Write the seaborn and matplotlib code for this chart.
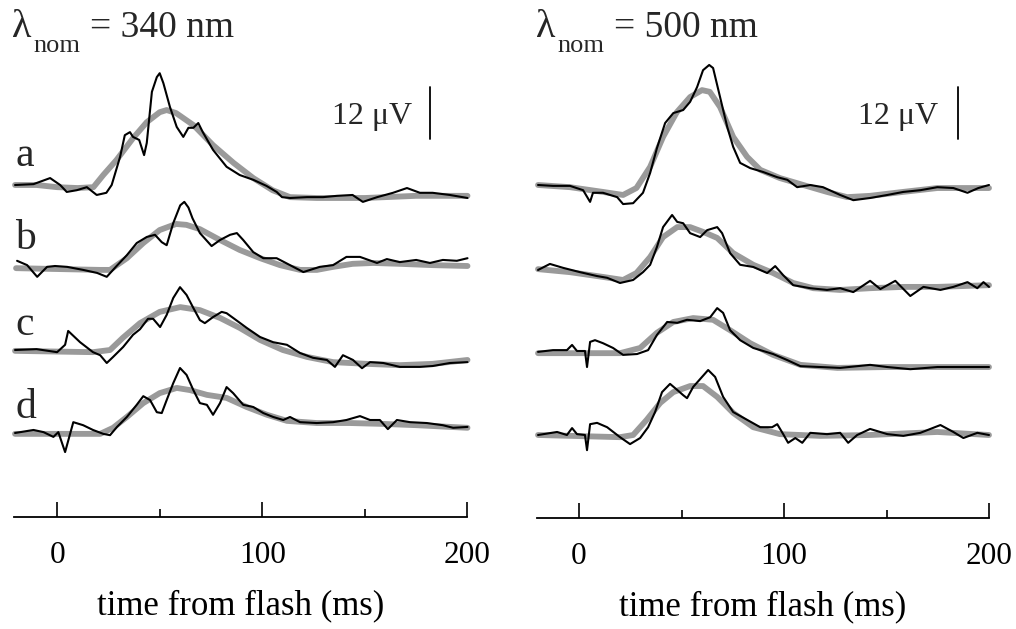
import numpy as np
import pandas as pd
import matplotlib
matplotlib.use("Agg")
import matplotlib.pyplot as plt
import seaborn as sns

# ---------------- data (time in ms, amplitude in microvolts, relative to each trace's start) -------------
# Left panel: lambda_nom = 340 nm
L_a_t = [-20.5,-11.5,-3.4,1.5,4.7,9.6,14.5,19.3,24,26.6,30.7,33,35.5,37,40,42.4,43.7,46.2,48.6,50,51.8,55,58.3,61.5,64,66.4,68.8,71,76,82.6,89,95.6,102,107,109.6,113.5,121.8,129.6,136.4,144,149,156,163.7,170.5,176.8,183,191.4,200]
L_a_v = [0.0,0.2,1.6,0.0,-1.6,-1.2,-0.5,-2.3,-1.8,0.0,6.5,11.5,12.2,11.1,10.4,6.9,9.7,21.5,24.9,25.8,23.5,18.0,13.4,11.1,13.2,13.2,14.3,12.2,8.1,4.2,2.3,1.2,-0.2,-1.6,-2.8,-3.0,-2.8,-2.8,-2.5,-2.3,-3.9,-2.8,-1.8,-0.7,-1.8,-1.8,-2.3,-3.0]
L_a_fit_t = [-20.5,-10,0,10,17.7,22.5,29,37,43.7,50,53.4,58,66.5,76,86,95.6,105,113.5,126.5,150,175,200]
L_a_fit_v = [0,0,-0.5,-0.7,-0.5,2.3,5.8,10.8,14.5,16.8,17.3,16.6,13.8,9.2,5.1,1.6,-1.2,-2.8,-3.0,-3.0,-2.5,-2.5]

L_b_t = [-19.5,-14.6,-9.7,-4.9,-1,4.9,12.7,19.5,24.2,29,34,38.8,43.7,47.7,51,53.4,56.6,60,62,64,66,69.6,75.3,79.4,84.3,87.6,90.7,95.6,100.5,107,113.5,120,128,134.5,141,147.6,155.9,160.7,167,175,181.7,188,194.8,200]
L_b_v = [1.2,0.2,-2.5,-0.2,0,-0.2,-0.9,-1.6,-2.5,0,2.5,5.3,6.7,7.2,5.5,4.8,9.9,14.0,14.8,13.5,11.0,7.6,4.6,6.0,7.2,7.6,6.0,3.2,1.8,1.8,0.2,-1.4,-0.2,0.2,2.1,2.1,0.7,1.6,0.9,1.4,0.7,1.4,1.2,1.8]
L_b_fit_t = [-20,0,21,25.8,34,42,50,58,63,69.6,79.4,89,99,108.6,118.4,126.6,134.5,144,154,167,183,200]
L_b_fit_v = [-0.5,-0.7,-0.9,-0.9,1.8,5.3,8.3,9.7,9.5,8.5,6.0,3.7,1.8,0.2,-0.9,-0.9,-0.2,0.5,0.7,0.5,0.2,0]

L_c_t = [-20.5,-10,0,3.9,5.4,11.2,17.5,21,24.2,27.3,32.2,37,40.4,44.3,46.8,50.2,53.4,56.6,59.9,63.1,66.4,69.6,72,76,80.2,82.6,85.8,92.4,98.9,105.3,112,118.4,124.7,131.5,135.4,139.3,144.2,148.6,152.5,159,167,176.8,183,191.4,200]
L_c_v = [0,0.2,-0.5,1.2,4.4,1.8,-0.5,-1.2,-3.0,-1.6,0.7,3.5,4.8,7.2,7.2,5.3,8.1,12.0,14.5,12.7,9.7,6.9,6.2,7.6,8.8,8.5,7.4,5.1,3.0,1.8,1.2,-0.7,-1.8,-2.3,-3.9,-1.2,-2.3,-4.2,-2.8,-3.0,-3.9,-3.9,-3.7,-3.0,-2.8]
L_c_fit_t = [-20.5,17.5,25.8,32,40.4,50,60,69.6,79.4,89,99,110,121.8,134.5,151,167,183,200]
L_c_fit_v = [-0.2,-0.5,0,2.8,6.2,8.8,9.9,9.2,7.4,5.1,2.3,0,-1.6,-2.8,-3.2,-3.5,-3.2,-2.3]

L_d_t = [-20.5,-11.5,-6.6,-1.8,0.6,3.9,7.9,12.7,17.5,22.5,25.8,29.2,34,38.8,42,45.3,48.6,51,53.4,56.6,59.9,63.1,66.4,69.6,73,76,79.4,82.6,85.8,90.7,95.6,100.5,105.3,110.2,113.5,118.4,126.5,134.5,141,147.6,152.5,157.3,161.2,165.6,172,180.2,188,193,200]
L_d_v = [0,0.7,0.2,-0.9,0.2,-4.4,2.5,1.8,0.7,-0.2,-0.5,1.4,3.7,6.5,8.5,7.6,4.8,4.6,7.6,11.5,15.0,13.4,9.9,6.9,6.5,4.2,6.9,10.6,9.2,6.5,6.0,4.6,3.7,3.0,3.7,2.5,2.3,2.5,3.0,3.9,3.0,3.0,0.9,3.0,2.5,2.3,1.8,1.2,1.4]
L_d_fit_t = [-20.5,21,27.3,34,42,50,58.3,64.8,73,82.6,92.4,102.3,112,126.6,142.7,158.8,175.3,200]
L_d_fit_v = [-0.2,-0.2,1.2,3.7,6.9,9.2,10.4,9.9,8.8,8.1,6.0,4.2,2.8,2.3,2.3,2.1,1.8,1.2]

# Right panel: lambda_nom = 500 nm
R_a_t = [-20,-12.7,-4.4,2,5.4,6.8,11.7,18.6,21.5,26.4,31.2,34.7,38,42,46,50.8,54.2,57.6,60.5,63.5,65.4,68.8,72.3,75.2,78.6,83.5,89.8,96.7,101.6,106.4,112.8,119,127.4,133.8,142,150.4,158.2,166.5,174.8,182.6,189.5,194.8,200]
R_a_v = [0,-0.2,-0.2,-1.2,-3.9,-1.8,-1.8,-2.8,-4.4,-4.2,-1.8,2.8,8.5,14.3,16.6,17.3,19.2,22.6,26.5,27.7,27.0,20.3,13.4,8.8,5.1,3.9,3.0,1.8,1.2,-0.5,0,-0.5,-2.3,-3.5,-3.0,-2.3,-1.6,-1.2,-0.5,-0.7,-1.8,-0.7,0]
R_a_fit_t = [-20,-4.4,11.7,21.5,28,34.7,41,47.7,54.2,60,63.8,68.8,75.2,82,88.4,98,109.4,121,130.8,142,158,174.8,200]
R_a_fit_v = [0,-0.5,-1.6,-2.3,-0.7,4.2,11.1,16.8,20.3,21.9,21.5,18.0,11.1,6.5,3.5,1.6,0,-1.6,-2.8,-2.5,-1.6,-0.7,-0.7]

R_b_t = [-20,-14.2,-7.8,0.5,8.8,13.7,20,26.4,31.2,34.7,38,41,45.4,47.9,50.8,54.2,59.1,62.5,67.4,69.8,73.7,78.6,85,91.8,95.7,99.6,104.5,112.8,121,127.4,133.8,142,147,154.3,161.6,168,176.3,182.6,189.5,194.3,197.3,200]
R_b_v = [0,1.4,0.5,-0.5,-1.4,-1.8,-3.0,-2.3,-0.5,1.2,5.3,9.9,12.7,11.1,10.8,8.5,7.6,9.2,9.9,8.5,3.9,1.2,0.7,-0.7,0.9,-1.2,-3.5,-4.2,-4.6,-4.2,-5.1,-2.5,-4.4,-2.5,-6.0,-3.9,-4.6,-3.9,-2.8,-4.2,-2.8,-3.9]
R_b_fit_t = [-20,-4.4,11.7,21.5,28,34.7,41,47.9,54.2,60.5,67.4,75.2,85,94.7,104.5,114.3,127.4,142,158.2,174.8,200]
R_b_fit_v = [0.2,-0.5,-1.6,-2.3,-0.7,3.0,7.6,9.9,9.9,8.8,7.4,3.9,1.2,-0.7,-3.0,-4.2,-4.6,-4.2,-3.9,-3.9,-3.5]

R_c_t = [-20,-12.7,-5.9,-3.4,-1,2.9,3.9,5.4,7.8,11.7,16.6,21.5,28.3,33.7,38,43,47.9,52.7,59.1,64,67.4,70.3,73.7,78.6,85,94.7,101.6,108,117.7,127.4,142,150.4,161.6,174.8,187.5,200]
R_c_v = [-0.2,0.2,0.2,1.4,0,0,-3.7,2.1,2.5,1.8,0.7,-0.9,-0.7,0.2,3.7,6.7,6.5,7.2,6.9,7.8,9.9,8.8,4.8,2.5,0.7,-0.7,-2.1,-3.5,-3.7,-3.9,-3.2,-3.7,-4.2,-3.7,-3.7,-3.7]
R_c_fit_t = [-20,20,29.8,38,46,55.7,65.4,73.7,83.5,94.7,108,126,150.4,174.8,200]
R_c_fit_v = [-0.5,-0.5,0.7,4.2,6.7,7.6,7.2,4.8,1.8,-0.9,-3.2,-3.9,-3.7,-3.7,-3.7]

R_d_t = [-20,-10.7,-5.9,-3.4,-1,2.9,3.9,5.4,8.8,13.7,20,24.9,29.8,33.7,37.1,40.5,44.4,47.9,50.8,52.7,55.7,60,63,66.4,70.3,75.2,82,88.4,94.2,96.7,99.6,102,105.5,108.9,112.8,121,127.4,131.3,135.7,142,150.4,158.2,166.5,176.3,182.6,187.5,194.3,200]
R_d_v = [0,0.7,0,1.6,0.2,0,-3.5,2.5,2.8,1.8,-0.5,-2.1,-0.7,1.8,5.3,9.9,11.8,10.4,9.2,8.5,11.1,13.4,15.0,13.4,8.8,5.3,3.5,1.8,1.8,2.5,0.2,-1.8,-0.7,-1.8,0.5,0.2,0.5,-1.8,0,1.4,0.2,-0.2,0.5,2.3,0.7,-0.7,0.5,0]
R_d_fit_t = [-20,20,26.4,33,39.6,46,54.2,60.5,67.4,75.2,85,98,117.7,142,174.8,200]
R_d_fit_v = [0,-0.5,0,3.5,7.4,9.9,11.3,11.3,8.8,5.1,1.8,0.2,-0.2,0,0.7,0]

trace_labels = ["a", "b", "c", "d"]
title_symbol = "λ"
title_sub = "nom"
panel_titles = ["= 340 nm", "= 500 nm"]
x_ticks = [0, 100, 200]
x_minor = [50, 150]
x_label = "time from flash (ms)"
scale_uV = 12
scale_text = "12 μV"

# ---------------- style ----------------
sns.set_theme(style="white")
plt.rcParams["font.family"] = ["Liberation Serif", "DejaVu Serif"]

W, H = 1016, 629
PX_PER_UV = 4.333
fig = plt.figure(figsize=(W / 100, H / 100), dpi=100)
fig.patch.set_facecolor("white")

panels = [
    dict(rect=(14, 467.5, 60, 517), xlim=(-21, 200),
         traces=[(L_a_t, L_a_v, L_a_fit_t, L_a_fit_v, 185),
                 (L_b_t, L_b_v, L_b_fit_t, L_b_fit_v, 266),
                 (L_c_t, L_c_v, L_c_fit_t, L_c_fit_v, 350),
                 (L_d_t, L_d_v, L_d_fit_t, L_d_fit_v, 433)],
         bar_x=181.7, text_x=173.0, title_x=12, letters=True),
    dict(rect=(537, 989, 60, 518), xlim=(-20.5, 200),
         traces=[(R_a_t, R_a_v, R_a_fit_t, R_a_fit_v, 185),
                 (R_b_t, R_b_v, R_b_fit_t, R_b_fit_v, 270),
                 (R_c_t, R_c_v, R_c_fit_t, R_c_fit_v, 351),
                 (R_d_t, R_d_v, R_d_fit_t, R_d_fit_v, 435)],
         bar_x=185.0, text_x=175.3, title_x=536, letters=False),
]
letter_base_px = [166, 249, 335, 418]

for p, title in zip(panels, panel_titles):
    x0, x1, ytop, ybot = p["rect"]
    ax = fig.add_axes([x0 / W, (H - ybot) / H, (x1 - x0) / W, (ybot - ytop) / H])
    ax.set_facecolor("none")
    ax.set_xlim(*p["xlim"])
    ax.set_ylim(0, (ybot - ytop) / PX_PER_UV)
    for (t, v, ft, fv, base_px) in p["traces"]:
        off = (ybot - base_px) / PX_PER_UV
        gdf = pd.DataFrame({"t": ft, "v": np.array(fv) + off})
        bdf = pd.DataFrame({"t": t, "v": np.array(v) + off})
        sns.lineplot(data=gdf, x="t", y="v", ax=ax, color="#9a9a9a", lw=4.2,
                     estimator=None, sort=False, solid_capstyle="round", clip_on=False)
        sns.lineplot(data=bdf, x="t", y="v", ax=ax, color="black", lw=1.5,
                     estimator=None, sort=False, clip_on=False)
    if p["letters"]:
        for lab, bpx in zip(trace_labels, letter_base_px):
            ax.text(-20.5, (ybot - bpx) / PX_PER_UV, lab, fontsize=30, va="baseline", ha="left")
    # scale bar
    yb0 = (ybot - 139) / PX_PER_UV
    ax.plot([p["bar_x"], p["bar_x"]], [yb0, yb0 + scale_uV], color="black", lw=1.3, clip_on=False)
    ax.text(p["text_x"], (ybot - 124) / PX_PER_UV, scale_text, fontsize=23, ha="right", va="baseline")

    for s in ["left", "right", "top"]:
        ax.spines[s].set_visible(False)
    ax.spines["bottom"].set_color("black")
    ax.spines["bottom"].set_linewidth(1.3)
    ax.set_yticks([])
    ax.set_xticks(x_ticks)
    ax.set_xticks(x_minor, minor=True)
    ax.set_xticklabels([str(v) for v in x_ticks])
    ax.tick_params(axis="x", which="major", direction="in", length=11, width=1.2,
                   colors="black", labelsize=22.5, pad=17, bottom=True)
    ax.tick_params(axis="x", which="minor", direction="in", length=5.5, width=1.2,
                   colors="black", bottom=True)
    ax.set_xlabel(x_label, fontsize=25, labelpad=14, color="black")
    ax.set_ylabel("")
    tx = p["title_x"]
    fig.text(tx / W, 1 - 37 / H, title_symbol, fontsize=29, ha="left", va="baseline")
    fig.text((tx + 21) / W, 1 - 52 / H, title_sub, fontsize=19, ha="left", va="baseline")
    fig.text((tx + 78) / W, 1 - 37 / H, title, fontsize=27, ha="left", va="baseline")

fig.savefig("out.png", dpi=100, facecolor="white")
